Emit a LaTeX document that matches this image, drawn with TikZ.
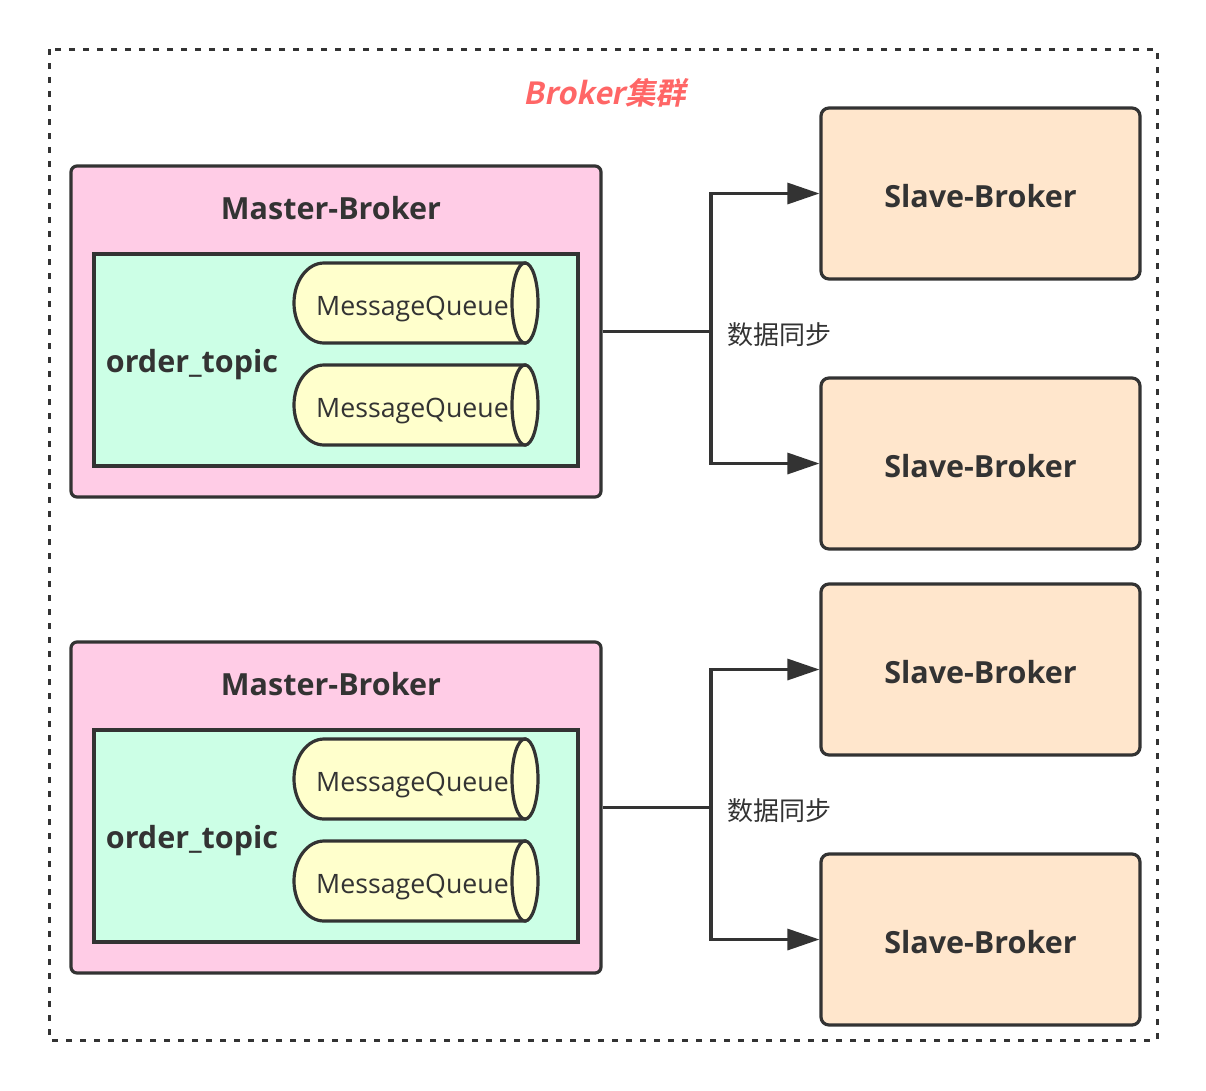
\documentclass[tikz,border=0pt]{standalone}
\usepackage{fontspec}
\setmainfont{Open Sans}
\newfontfamily\cjk{Noto Sans CJK SC}
\newfontfamily\cjktitle{Noto Sans CJK SC Bold}[FakeSlant=0.2]
\usetikzlibrary{arrows.meta}
\definecolor{strk}{HTML}{333333}
\definecolor{pinkf}{HTML}{FFCCE6}
\definecolor{greenf}{HTML}{CCFFE6}
\definecolor{yellowf}{HTML}{FFFFCC}
\definecolor{peachf}{HTML}{FFE6CC}
\definecolor{titlered}{HTML}{FF6666}
\tikzset{
  masterbox/.style={draw=strk, line width=3.2pt, fill=pinkf, rounded corners=6pt, minimum width=530pt, minimum height=331pt, inner sep=0pt},
  topicbox/.style={draw=strk, line width=3.2pt, fill=greenf, minimum width=484pt, minimum height=212pt, inner sep=0pt},
  slavebox/.style={draw=strk, line width=3.2pt, fill=peachf, rounded corners=8pt, minimum width=319pt, minimum height=171pt, inner sep=0pt, text height=28pt, text depth=0pt, font=\fontsize{30.5}{36}\selectfont\bfseries, text=strk},
  boldlabel/.style={font=\fontsize{30.5}{36}\selectfont\bfseries, text=strk, inner sep=0pt},
  queuelabel/.style={font=\fontsize{26.7}{32}\selectfont, text=strk, inner sep=0pt},
  synclabel/.style={font=\cjk\fontsize{26}{32}\selectfont, text=strk, inner sep=0pt},
  conn/.style={draw=strk, line width=3.2pt},
  arr/.style={conn, -{Triangle[length=32pt, width=21pt]}},
  queue/.style={draw=strk, line width=3.2pt, fill=yellowf},
}
\begin{document}
\begin{tikzpicture}[x=1pt, y=-1pt]
\useasboundingbox (0,0) rectangle (1206,1090);
\fill[white] (0,0) rectangle (1206,1090);
\draw[strk, line width=3pt, dash pattern=on 6pt off 8pt] (49,49) rectangle (1157,1040);
\node[font=\cjktitle\fontsize{30.5}{36}\selectfont, text=titlered, inner sep=0pt] (title) at (605,93) {Broker集群};

\foreach \g/\dy in {1/0, 2/476} {
  \begin{scope}[yshift=-\dy pt]
    \node[masterbox] (m\g) at (336,331.5) {};
    \node[boldlabel] (mt\g) at (331,208.5) {Master-Broker};
    \node[topicbox] (t\g) at (336,360) {};
    \node[boldlabel] (ot\g) at (192,365) {order\_topic};
    \foreach \q/\qy in {a/263, b/365} {
      \path[queue] (525,\qy) -- (324,\qy)
        .. controls (307.4,\qy) and (294,\qy+17.9) .. (294,\qy+40)
        .. controls (294,\qy+62.1) and (307.4,\qy+80) .. (324,\qy+80)
        -- (525,\qy+80) -- cycle;
      \draw[queue] (525,\qy+40) ellipse [x radius=13pt, y radius=40pt];
      \node[queuelabel] (q\g\q) at (412.5,\qy+46) {MessageQueue};
    }
  \end{scope}
}

\node[slavebox] (s1) at (980.5,193.5) {Slave-Broker};
\node[slavebox] (s2) at (980.5,463.5) {Slave-Broker};
\node[slavebox] (s3) at (980.5,669.5) {Slave-Broker};
\node[slavebox] (s4) at (980.5,939.5) {Slave-Broker};

\coordinate (j1) at (711,331.5);
\coordinate (j2) at (711,807.5);
\draw[conn] (m1.east) -- (j1);
\draw[arr] (j1) |- (s1.west);
\draw[arr] (j1) |- (s2.west);
\draw[conn] (m2.east) -- (j2);
\draw[arr] (j2) |- (s3.west);
\draw[arr] (j2) |- (s4.west);

\node[synclabel, anchor=west] (d1) at (727,335) {数据同步};
\node[synclabel, anchor=west] (d2) at (727,811) {数据同步};
\end{tikzpicture}
\end{document}
